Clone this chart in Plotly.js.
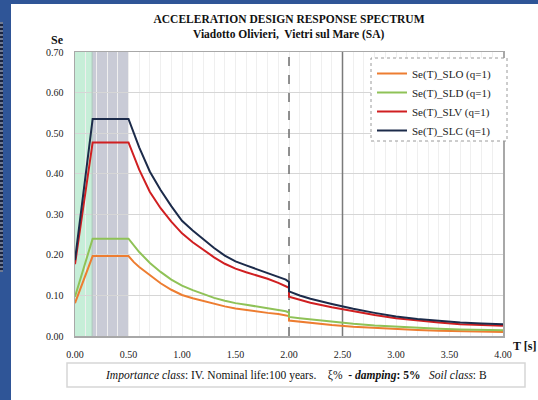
<!DOCTYPE html>
<html>
<head>
<meta charset="utf-8">
<script src="https://cdn.plot.ly/plotly-3.0.1.min.js"></script>
<style>
  html, body { margin: 0; padding: 0; background: #ffffff; }
  #chart { position: absolute; left: 0; top: 0; width: 538px; height: 400px; }
  .frame-top { position: absolute; left: 0; top: 0; width: 538px; height: 4px; background: #2f5597; }
  .frame-left { position: absolute; left: 0; top: 0; width: 11px; height: 400px; background: #2f5597; }
  .frame-dots { position: absolute; left: 0; top: 22px; width: 3px; height: 250px;
    background: repeating-linear-gradient(to bottom, #6f7a92 0px, #6f7a92 2px, #1a2440 2px, #1a2440 4px); }
</style>
</head>
<body>
<div id="chart"></div>
<div class="frame-top"></div>
<div class="frame-left"></div>
<div class="frame-dots"></div>
<script>
// Period values T [s]; the repeated 2.00 carries the step down at TD
var periods = [0, 0.165, 0.5, 0.55, 0.6, 0.7, 0.8, 0.9, 1.0, 1.1, 1.2, 1.3, 1.4, 1.5, 1.6, 1.7, 1.8, 1.9, 1.97, 2.0, 2.0, 2.1, 2.2, 2.4, 2.6, 2.8, 3.0, 3.2, 3.4, 3.6, 3.8, 4.0];

// Elastic spectral acceleration Se(T) for each limit state (q = 1)
var seSLO = [0.081, 0.197, 0.197, 0.182, 0.170, 0.150, 0.130, 0.114, 0.101, 0.093, 0.086, 0.079, 0.073, 0.068, 0.064, 0.061, 0.057, 0.054, 0.051, 0.049, 0.038, 0.035, 0.032, 0.027, 0.023, 0.020, 0.017, 0.015, 0.013, 0.012, 0.011, 0.010];
var seSLD = [0.097, 0.240, 0.240, 0.222, 0.207, 0.180, 0.158, 0.139, 0.124, 0.113, 0.103, 0.094, 0.087, 0.081, 0.077, 0.073, 0.069, 0.065, 0.061, 0.058, 0.047, 0.044, 0.041, 0.035, 0.030, 0.026, 0.023, 0.020, 0.018, 0.016, 0.015, 0.014];
var seSLV = [0.177, 0.477, 0.477, 0.445, 0.410, 0.355, 0.315, 0.282, 0.253, 0.231, 0.212, 0.194, 0.178, 0.166, 0.157, 0.149, 0.141, 0.131, 0.123, 0.119, 0.097, 0.089, 0.082, 0.071, 0.061, 0.052, 0.044, 0.038, 0.033, 0.029, 0.027, 0.025];
var seSLC = [0.187, 0.535, 0.535, 0.500, 0.465, 0.405, 0.360, 0.320, 0.284, 0.260, 0.238, 0.217, 0.198, 0.184, 0.174, 0.165, 0.156, 0.147, 0.139, 0.133, 0.110, 0.100, 0.092, 0.079, 0.067, 0.057, 0.048, 0.042, 0.037, 0.033, 0.031, 0.029];

var seriesNames = ['Se(T)_SLO (q=1)', 'Se(T)_SLD (q=1)', 'Se(T)_SLV (q=1)', 'Se(T)_SLC (q=1)'];

// Characteristic periods: TB, TC, TD and the 2.5 s marker
var periodTB = 0.16, periodTC = 0.50, periodTD = 2.0, periodMark = 2.5;

var xTickVals = [0, 0.5, 1, 1.5, 2, 2.5, 3, 3.5, 4];
var xTickText = ['0.00', '0.50', '1.00', '1.50', '2.00', '2.50', '3.00', '3.50', '4.00'];
var yTickVals = [0, 0.1, 0.2, 0.3, 0.4, 0.5, 0.6, 0.7];
var yTickText = ['0.00', '0.10', '0.20', '0.30', '0.40', '0.50', '0.60', '0.70'];

var serif = 'Liberation Serif, Times New Roman, serif';
var colors = ['#ed7d31', '#8fc257', '#d01f21', '#1c2b4a'];
var values = [seSLO, seSLD, seSLV, seSLC];

var traces = values.map(function (v, i) {
  return {
    x: periods, y: v, type: 'scatter', mode: 'lines',
    name: seriesNames[i],
    line: { color: colors[i], width: 2 }
  };
});

// pixel helpers for the fixed 538x400 frame (plot area 75..503 x 52..336)
function px(x) { return (x - 75) / 428; }
function py(y) { return (336 - y) / 284; }

var shapes = [
  // TB band and TB-TC plateau band
  { type: 'rect', xref: 'x', yref: 'y', x0: 0, x1: periodTB, y0: 0, y1: 0.7,
    fillcolor: '#c6eed8', line: { width: 0 }, layer: 'below' },
  { type: 'rect', xref: 'x', yref: 'y', x0: periodTB, x1: periodTC, y0: 0, y1: 0.7,
    fillcolor: '#c9cbd6', line: { width: 0 }, layer: 'below' },
  { type: 'line', xref: 'x', yref: 'y', x0: periodTB, x1: periodTB, y0: 0, y1: 0.7,
    line: { color: '#a9c6b9', width: 1 }, layer: 'between' },
  // TD dashed marker and 2.5 s solid marker
  { type: 'line', xref: 'x', yref: 'y', x0: periodTD, x1: periodTD, y0: 0, y1: 0.7,
    line: { color: '#6e6e6e', width: 1.5, dash: 'dash' }, layer: 'between' },
  { type: 'line', xref: 'x', yref: 'y', x0: periodMark, x1: periodMark, y0: 0, y1: 0.7,
    line: { color: '#7a7a7a', width: 1.5 }, layer: 'between' },
  // legend box with dotted outline
  { type: 'rect', xref: 'paper', yref: 'paper', x0: px(371), x1: px(507), y0: py(141), y1: py(58),
    fillcolor: '#ffffff', line: { color: '#9a9a9a', width: 1, dash: 'dot' }, layer: 'above' },
  // note box under the axis
  { type: 'rect', xref: 'paper', yref: 'paper', x0: px(67), x1: px(525), y0: py(387), y1: py(363),
    fillcolor: '#ffffff', line: { color: '#d6d6d6', width: 1.5 }, layer: 'above' }
];

var annotations = [
  { text: '<b>Viadotto Olivieri,  Vietri sul Mare (SA)</b>', xref: 'paper', yref: 'paper',
    x: px(288), y: py(34), xanchor: 'center', yanchor: 'middle', showarrow: false,
    font: { family: serif, size: 11.5, color: '#111111' } },
  { text: '<b>Se</b>', xref: 'paper', yref: 'paper', x: px(57), y: py(40),
    xanchor: 'center', yanchor: 'middle', showarrow: false,
    font: { family: serif, size: 12, color: '#111111' } },
  { text: '<b>T [s]</b>', xref: 'paper', yref: 'paper', x: px(524), y: py(346),
    xanchor: 'center', yanchor: 'middle', showarrow: false,
    font: { family: serif, size: 12, color: '#111111' } },
  { text: '<i>Importance class</i>: IV. Nominal life:100 years.\u00a0\u00a0\u00a0\u00a0ξ%\u00a0\u00a0<b>- <i>damping</i>: 5%</b>\u00a0\u00a0\u00a0<i>Soil class</i>: B',
    xref: 'paper', yref: 'paper', x: px(296), y: py(375),
    xanchor: 'center', yanchor: 'middle', showarrow: false,
    font: { family: serif, size: 11.5, color: '#111111' } }
];

var layout = {
  width: 538, height: 400,
  margin: { l: 75, r: 35, t: 52, b: 64, pad: 0 },
  paper_bgcolor: '#ffffff', plot_bgcolor: '#ffffff',
  font: { family: serif, size: 10, color: '#222222' },
  title: {
    text: '<b>ACCELERATION DESIGN RESPONSE SPECTRUM</b>',
    font: { family: serif, size: 11.5, color: '#111111' },
    xref: 'paper', x: 0.5, xanchor: 'center',
    yref: 'container', y: 1 - 19 / 400, yanchor: 'middle'
  },
  xaxis: {
    range: [0, 4], tickvals: xTickVals, ticktext: xTickText,
    showgrid: true, gridcolor: '#eeeeee', gridwidth: 1,
    minor: { dtick: 0.1, showgrid: true, gridcolor: '#efefef', gridwidth: 1 },
    showline: true, mirror: true, linecolor: '#a8a8a8', linewidth: 1.5,
    ticks: '', ticklabelstandoff: 8, zeroline: false,
    tickfont: { family: serif, size: 10, color: '#222222' }
  },
  yaxis: {
    range: [0, 0.7], tickvals: yTickVals, ticktext: yTickText,
    showgrid: true, gridcolor: '#d6d6d6', gridwidth: 1,
    showline: true, mirror: true, linecolor: '#a8a8a8', linewidth: 1.5,
    ticks: '', ticklabelstandoff: 8, zeroline: false,
    tickfont: { family: serif, size: 10, color: '#222222' }
  },
  showlegend: true,
  legend: {
    x: px(372), y: py(59), xanchor: 'left', yanchor: 'top',
    bgcolor: 'rgba(0,0,0,0)', borderwidth: 0,
    font: { family: serif, size: 11, color: '#222222' }
  },
  shapes: shapes,
  annotations: annotations
};

Plotly.newPlot('chart', traces, layout, { displayModeBar: false, staticPlot: true });
</script>
</body>
</html>
